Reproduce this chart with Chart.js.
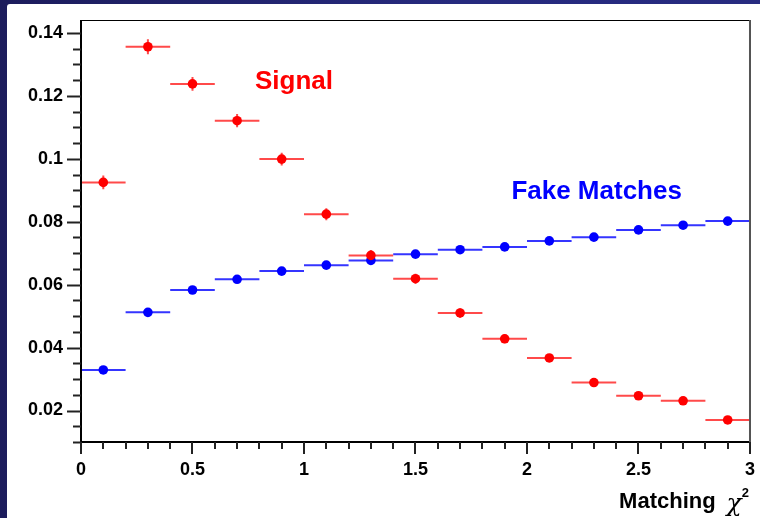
<!DOCTYPE html>
<html>
<head>
<meta charset="utf-8">
<script src="https://cdn.jsdelivr.net/npm/chart.js@4.4.0/dist/chart.umd.min.js"></script>
<style>
  html, body { margin: 0; padding: 0; }
  body {
    width: 760px; height: 518px; overflow: hidden; position: relative;
    background: linear-gradient(to right, #1c1c5c 0%, #262a7e 60%, #272b80 100%);
  }
  #panel { position: absolute; left: 7px; top: 4px; right: 0; bottom: 0; background: #fff; border-top-left-radius: 3px; }
  #chart { position: absolute; left: 0; top: 0; }
</style>
</head>
<body>
<div id="panel"></div>
<canvas id="chart" width="760" height="518"></canvas>
<script>
// ── DATA ───────────────────────────────────────────────────────────────────

const BIN_CENTERS = [0.1, 0.3, 0.5, 0.7, 0.9, 1.1, 1.3, 1.5, 1.7, 1.9, 2.1, 2.3, 2.5, 2.7, 2.9];
const BIN_HALF    = 0.1;

const SIGNAL     = [0.0925, 0.1356, 0.1238, 0.1121, 0.0999, 0.0824, 0.0693, 0.0619, 0.0510, 0.0428, 0.0367, 0.0289, 0.0247, 0.0231, 0.0170];
const SIGNAL_ERR = [0.0022, 0.0024, 0.0022, 0.0021, 0.0020, 0.0019, 0.0017, 0.0016, 0.0015, 0.0014, 0.0013, 0.0012, 0.0011, 0.0011, 0.0010];

const FAKE     = [0.0329, 0.0512, 0.0583, 0.0617, 0.0643, 0.0662, 0.0677, 0.0697, 0.0711, 0.0720, 0.0739, 0.0751, 0.0774, 0.0789, 0.0802];
const FAKE_ERR = [0.0010, 0.0011, 0.0011, 0.0011, 0.0011, 0.0011, 0.0011, 0.0011, 0.0011, 0.0011, 0.0011, 0.0011, 0.0011, 0.0011, 0.0011];

const X_TICKS  = [0, 0.5, 1, 1.5, 2, 2.5, 3];
const X_LABELS = ['0', '0.5', '1', '1.5', '2', '2.5', '3'];
const Y_TICKS  = [0.02, 0.04, 0.06, 0.08, 0.1, 0.12, 0.14];
const Y_LABELS = ['0.02', '0.04', '0.06', '0.08', '0.1', '0.12', '0.14'];

const X_RANGE = [0, 3];
const Y_RANGE = [0.0100, 0.1441];

// in-plot labels, positioned in data coordinates (left edge, baseline)
const TEXT_LABELS = [
  { text: 'Signal',       x: 0.78, y: 0.1223, color: '#ff0000' },
  { text: 'Fake Matches', x: 1.93, y: 0.0873, color: '#0000ff' },
];

// ── STYLE ──────────────────────────────────────────────────────────────────

const FONT = '"Liberation Sans", Arial, Helvetica, sans-serif';
const SERIES = [
  { label: 'Signal',        data: SIGNAL, err: SIGNAL_ERR, color: '#ff0000', bar: '#ff4a4a' },
  { label: 'Fake Matches',  data: FAKE,   err: FAKE_ERR,   color: '#0000ff', bar: '#3535ff' },
];

// ── PLUGINS ────────────────────────────────────────────────────────────────

// horizontal bin-width bars + vertical error bars, drawn under the markers
const errorBars = {
  id: 'errorBars',
  beforeDatasetsDraw(chart) {
    const { ctx, scales: { x, y } } = chart;
    ctx.save();
    SERIES.forEach(s => {
      ctx.strokeStyle = s.bar;
      ctx.lineWidth = 2;
      s.data.forEach((v, i) => {
        const c  = BIN_CENTERS[i];
        const py = y.getPixelForValue(v);
        const px = x.getPixelForValue(c);
        ctx.beginPath();
        ctx.moveTo(x.getPixelForValue(c - BIN_HALF), py);
        ctx.lineTo(x.getPixelForValue(c + BIN_HALF), py);
        ctx.moveTo(px, y.getPixelForValue(v - s.err[i]));
        ctx.lineTo(px, y.getPixelForValue(v + s.err[i]));
        ctx.stroke();
      });
    });
    ctx.restore();
  },
};

// ROOT-style frame, major/minor ticks, text labels and axis title
const frame = {
  id: 'frame',
  afterDraw(chart) {
    const { ctx, chartArea: a, scales: { x, y } } = chart;
    ctx.save();
    ctx.strokeStyle = '#000';

    // frame
    ctx.lineWidth = 1;
    ctx.strokeRect(a.left + 0.5, a.top + 0.5, a.right - a.left, a.bottom - a.top);
    ctx.lineWidth = 2;
    ctx.beginPath();
    ctx.moveTo(a.left, a.top);
    ctx.lineTo(a.left, a.bottom);
    ctx.lineTo(a.right, a.bottom);
    ctx.stroke();
    ctx.strokeStyle = '#555';
    ctx.beginPath();
    ctx.moveTo(a.right, a.top);
    ctx.lineTo(a.right, a.bottom);
    ctx.stroke();

    // y ticks (outside, to the left)
    ctx.strokeStyle = '#222';
    ctx.lineWidth = 2;
    for (let k = 2; k <= 28; k++) {
      const v = k * 0.005;
      const py = Math.round(y.getPixelForValue(v)) + 0.5;
      const len = k % 4 === 0 ? 14 : 8;
      ctx.beginPath();
      ctx.moveTo(a.left, py);
      ctx.lineTo(a.left - len, py);
      ctx.stroke();
    }
    // x ticks (outside, below)
    for (let k = 0; k <= 30; k++) {
      const v = k * 0.1;
      const px = Math.round(x.getPixelForValue(v));
      const len = k % 5 === 0 ? 12 : 7;
      ctx.beginPath();
      ctx.moveTo(px, a.bottom);
      ctx.lineTo(px, a.bottom + len);
      ctx.stroke();
    }

    // in-plot text
    ctx.font = `bold 26px ${FONT}`;
    ctx.textBaseline = 'alphabetic';
    ctx.textAlign = 'left';
    TEXT_LABELS.forEach(t => {
      ctx.fillStyle = t.color;
      ctx.fillText(t.text, x.getPixelForValue(t.x), y.getPixelForValue(t.y));
    });

    // axis title: Matching χ²
    ctx.fillStyle = '#000';
    const right = a.right - 1;
    const base  = 508;
    const chiFont = `italic 25px "DejaVu Serif", serif`;
    ctx.font = `bold 13px ${FONT}`;
    const w2 = ctx.measureText('2').width;
    ctx.font = chiFont;
    const wChi = ctx.measureText('χ').width;
    ctx.font = `bold 22px ${FONT}`;
    const wM = ctx.measureText('Matching').width;
    const gap = 11;
    let px = right - w2 - wChi - gap - wM;
    ctx.fillText('Matching', px, base);
    px += wM + gap;
    ctx.font = chiFont;
    ctx.fillText('χ', px, base + 3);
    px += wChi;
    ctx.font = `bold 13px ${FONT}`;
    ctx.fillText('2', px, base - 11);

    ctx.restore();
  },
};

// ── CHART ──────────────────────────────────────────────────────────────────

const tickFont = { family: FONT, size: 18, weight: 'bold' };

new Chart(document.getElementById('chart').getContext('2d'), {
  type: 'scatter',
  data: {
    datasets: SERIES.map(s => ({
      label: s.label,
      data: s.data.map((v, i) => ({ x: BIN_CENTERS[i], y: v })),
      backgroundColor: s.color,
      borderWidth: 0,
      pointRadius: 4.8,
      pointStyle: 'circle',
    })),
  },
  options: {
    responsive: false,
    animation: false,
    layout: { padding: { left: 0, top: 20, right: 7, bottom: 0 } },
    plugins: { legend: { display: false }, tooltip: { enabled: false } },
    scales: {
      x: {
        type: 'linear',
        min: X_RANGE[0], max: X_RANGE[1],
        afterBuildTicks: sc => { sc.ticks = X_TICKS.map(v => ({ value: v })); },
        afterFit: sc => { sc.height = 76; },
        ticks: {
          font: tickFont, color: '#000', padding: 5, maxRotation: 0, autoSkip: false,
          callback: (v, i) => X_LABELS[i],
        },
        grid: { drawOnChartArea: false, color: 'rgba(0,0,0,0)', tickLength: 12 },
        border: { display: false },
      },
      y: {
        type: 'linear',
        min: Y_RANGE[0], max: Y_RANGE[1],
        afterBuildTicks: sc => { sc.ticks = Y_TICKS.map(v => ({ value: v })); },
        afterFit: sc => { sc.width = 81; },
        ticks: {
          font: tickFont, color: '#000', padding: 4, autoSkip: false,
          callback: (v, i) => Y_LABELS[i],
        },
        grid: { drawOnChartArea: false, color: 'rgba(0,0,0,0)', tickLength: 14 },
        border: { display: false },
      },
    },
  },
  plugins: [errorBars, frame],
});
</script>
</body>
</html>
